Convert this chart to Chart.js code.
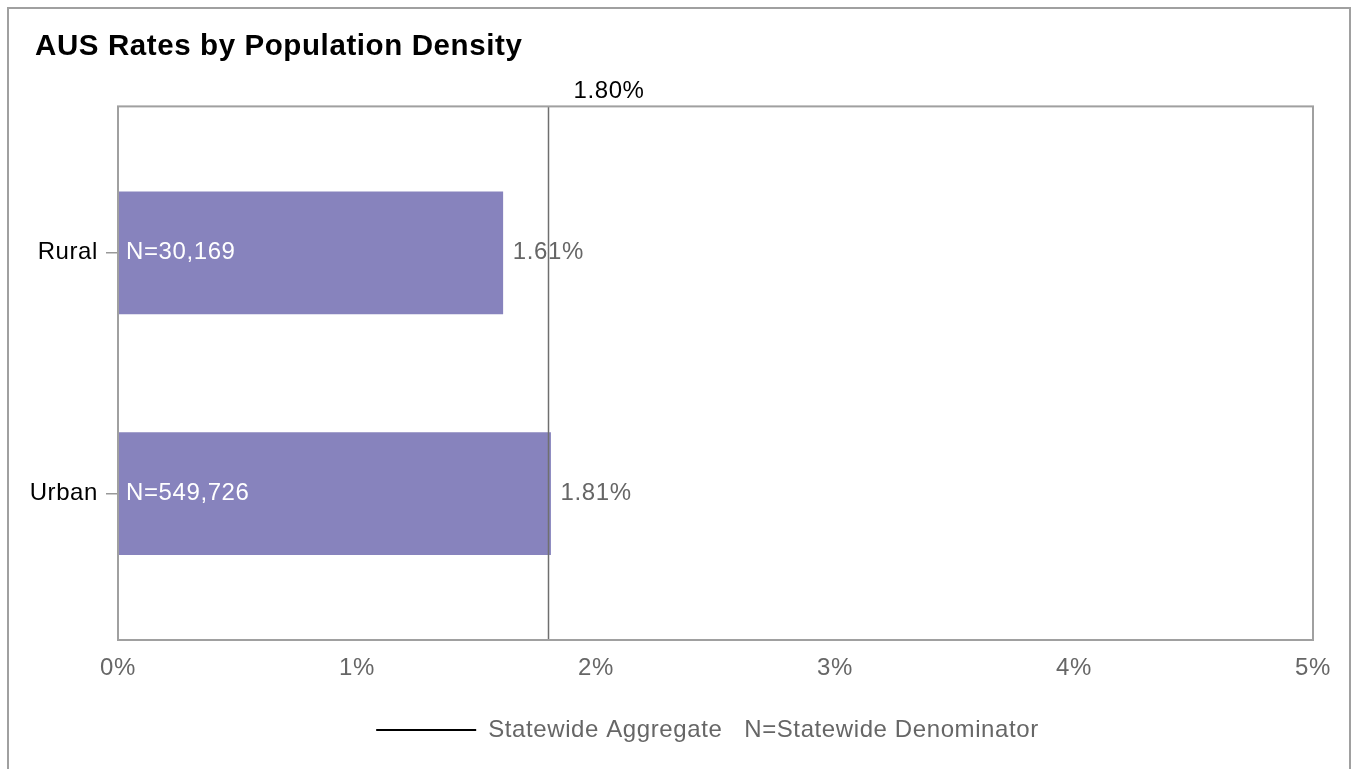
<!DOCTYPE html>
<html>
<head>
<meta charset="utf-8">
<script src="https://cdn.jsdelivr.net/npm/chart.js@4/dist/chart.umd.min.js"></script>
<style>
  html, body { margin: 0; padding: 0; overflow: hidden; background: #fff; }
  #frame { position: absolute; left: 7px; top: 7px; width: 1340px; height: 900px; border: 2px solid #a0a0a0; }
  #chart { position: absolute; left: 0; top: 0; }
</style>
</head>
<body>
<div id="frame"></div>
<canvas id="chart" width="1351" height="769"></canvas>
<script>
const categories = ['Rural', 'Urban'];
const rates = [1.61, 1.81];
const denominators = ['30,169', '549,726'];
const statewide = 1.80;
const xTicks = [0, 1, 2, 3, 4, 5];

const FONT = "'Liberation Sans', Arial, sans-serif";
const SPACING = '0.6px';
const ctx = document.getElementById('chart');

const overlay = {
    id: 'overlay',
    beforeUpdate(chart) { chart.ctx.letterSpacing = SPACING; },
    beforeDraw(chart) { chart.ctx.letterSpacing = SPACING; },
    afterLayout(chart) {
        // title starts a little right of the axis labels, legend sits right of centre
        chart.titleBlock.left += 7;
        chart.titleBlock.right += 7;
        chart.legend.left += 37;
        chart.legend.right += 37;
    },
    afterDatasetsDraw(chart) {
        const c = chart.ctx;
        const area = chart.chartArea;
        const xs = chart.scales.x;
        c.save();
        c.letterSpacing = SPACING;
        // labels on bars
        const meta = chart.getDatasetMeta(0);
        c.font = '24px ' + FONT;
        c.textBaseline = 'middle';
        c.textAlign = 'left';
        meta.data.forEach((bar, i) => {
            c.fillStyle = '#ffffff';
            c.fillText('N=' + denominators[i], area.left + 8, bar.y);
            c.fillStyle = '#666666';
            c.fillText(rates[i].toFixed(2) + '%', bar.x + 10, bar.y);
        });
        // statewide line
        const sx = Math.round(xs.getPixelForValue(statewide)) + 0.5;
        c.strokeStyle = '#6f6f6f';
        c.lineWidth = 1.5;
        c.beginPath();
        c.moveTo(sx, area.top);
        c.lineTo(sx, area.bottom);
        c.stroke();
        c.fillStyle = '#000';
        c.fillText(statewide.toFixed(2) + '%', sx + 25, area.top - 15);
        // plot frame
        c.strokeStyle = '#a0a0a0';
        c.lineWidth = 2;
        c.strokeRect(area.left, area.top, area.right - area.left, area.bottom - area.top);
        c.restore();
    }
};

new Chart(ctx, {
    type: 'bar',
    data: {
        datasets: [{
            label: 'Rate',
            data: rates.map((v, i) => ({ x: v, y: i })),
            backgroundColor: '#8783bd',
            borderWidth: 0,
            barThickness: 122
        }]
    },
    options: {
        indexAxis: 'y',
        responsive: false,
        animation: false,
        layout: { padding: { left: 28, right: 38, top: 0, bottom: 17 } },
        scales: {
            x: {
                type: 'linear',
                min: 0,
                max: 5,
                afterBuildTicks: (scale) => { scale.ticks = xTicks.map(v => ({ value: v })); },
                afterFit: (scale) => { scale.height = 68; },
                ticks: {
                    padding: 6,
                    color: '#666666',
                    font: { family: FONT, size: 24 },
                    callback: (v) => v + '%'
                },
                grid: { display: false },
                border: { display: false }
            },
            y: {
                type: 'linear',
                offset: false,
                min: -0.608,
                max: 1.608,
                reverse: true,
                afterBuildTicks: (scale) => { scale.ticks = categories.map((c, i) => ({ value: i })); },
                afterFit: (scale) => { scale.width = 90; },
                ticks: {
                    padding: 8,
                    color: '#000000',
                    font: { family: FONT, size: 24 },
                    callback: (v) => categories[v]
                },
                grid: {
                    offset: false,
                    drawOnChartArea: false,
                    drawTicks: true,
                    tickLength: 12,
                    color: '#999999',
                    lineWidth: 1.5
                },
                border: { display: false }
            }
        },
        plugins: {
            title: {
                display: true,
                text: 'AUS Rates by Population Density',
                align: 'start',
                color: '#000',
                font: { family: FONT, size: 29.5, weight: 'bold' },
                padding: { top: 29, bottom: 42 }
            },
            legend: {
                display: true,
                position: 'bottom',
                labels: {
                    usePointStyle: true,
                    pointStyleWidth: 100,
                    color: '#666666',
                    font: { family: FONT, size: 24 },
                    padding: 10,
                    generateLabels: () => [{
                        text: 'Statewide Aggregate   N=Statewide Denominator',
                        pointStyle: 'line',
                        strokeStyle: '#000',
                        fillStyle: '#000',
                        lineWidth: 2,
                        fontColor: '#666666',
                        hidden: false,
                        datasetIndex: 0
                    }]
                }
            },
            tooltip: { enabled: false }
        }
    },
    plugins: [overlay]
});
</script>
</body>
</html>
